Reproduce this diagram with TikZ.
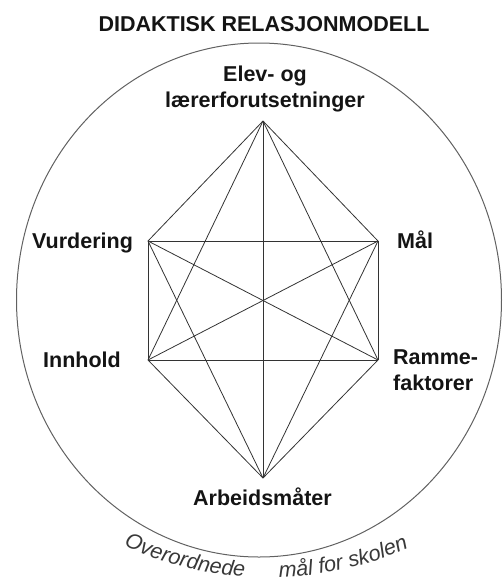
\documentclass[tikz,border=0pt]{standalone}
\usepackage{fontspec}
\setmainfont{Liberation Sans}
\usetikzlibrary{decorations.text}
\begin{document}
\begin{tikzpicture}[x=1pt,y=-1pt,
  lbl/.style={font=\bfseries\fontsize{21.5}{26}\selectfont, inner sep=0pt, text=black!92},
  edge/.style={draw=black!80, line width=0.8pt},
  ring/.style={draw=black!62, line width=1pt},
  curvtext/.style={decorate, decoration={text along path, text align=left,
     text color=black!78}}]
\useasboundingbox (0,0) rectangle (503,582);
% outer ring
\draw[ring] (259,300) ellipse [x radius=242.5, y radius=257];
% vertices
\coordinate (vT) at (263,121);
\coordinate (vV) at (148,241);
\coordinate (vM) at (378,241);
\coordinate (vI) at (148,360);
\coordinate (vR) at (378,360);
\coordinate (vB) at (263,478);
% complete graph
\foreach \a/\b in {vT/vV,vT/vM,vT/vI,vT/vR,vT/vB,
                   vV/vM,vV/vI,vV/vR,vV/vB,
                   vM/vI,vM/vR,vM/vB,
                   vI/vR,vI/vB,
                   vR/vB}
  \draw[edge] (\a) -- (\b);
% labels
\node[lbl, anchor=base] (title) at (264,31) {DIDAKTISK RELASJONMODELL};
\node[lbl, align=center, anchor=base] (elev) at (265,107) {Elev- og\\lærerforutsetninger};
\node[lbl, anchor=base west] (vurd) at (32,248.5) {Vurdering};
\node[lbl, anchor=base west] (maal) at (397,248.5) {Mål};
\node[lbl, anchor=base west] (innh) at (43,367) {Innhold};
\node[lbl, align=left, anchor=base west] (ramme) at (393,390) {Ramme-\\faktorer};
\node[lbl, anchor=base] (arb) at (262.5,505) {Arbeidsmåter};
% curved text
\path[curvtext, decoration={text={|\itshape\fontsize{21.5}{26}\selectfont|Overordnede}}]
  (268.7,227.4) ++(114.5:350) arc[start angle=114.5, end angle=88, radius=350];
\path[curvtext, decoration={text={|\itshape\fontsize{21.5}{26}\selectfont|mål for skolen}}]
  (268.7,227.4) ++(88.3:350) arc[start angle=88.3, end angle=55, radius=350];
\end{tikzpicture}
\end{document}
